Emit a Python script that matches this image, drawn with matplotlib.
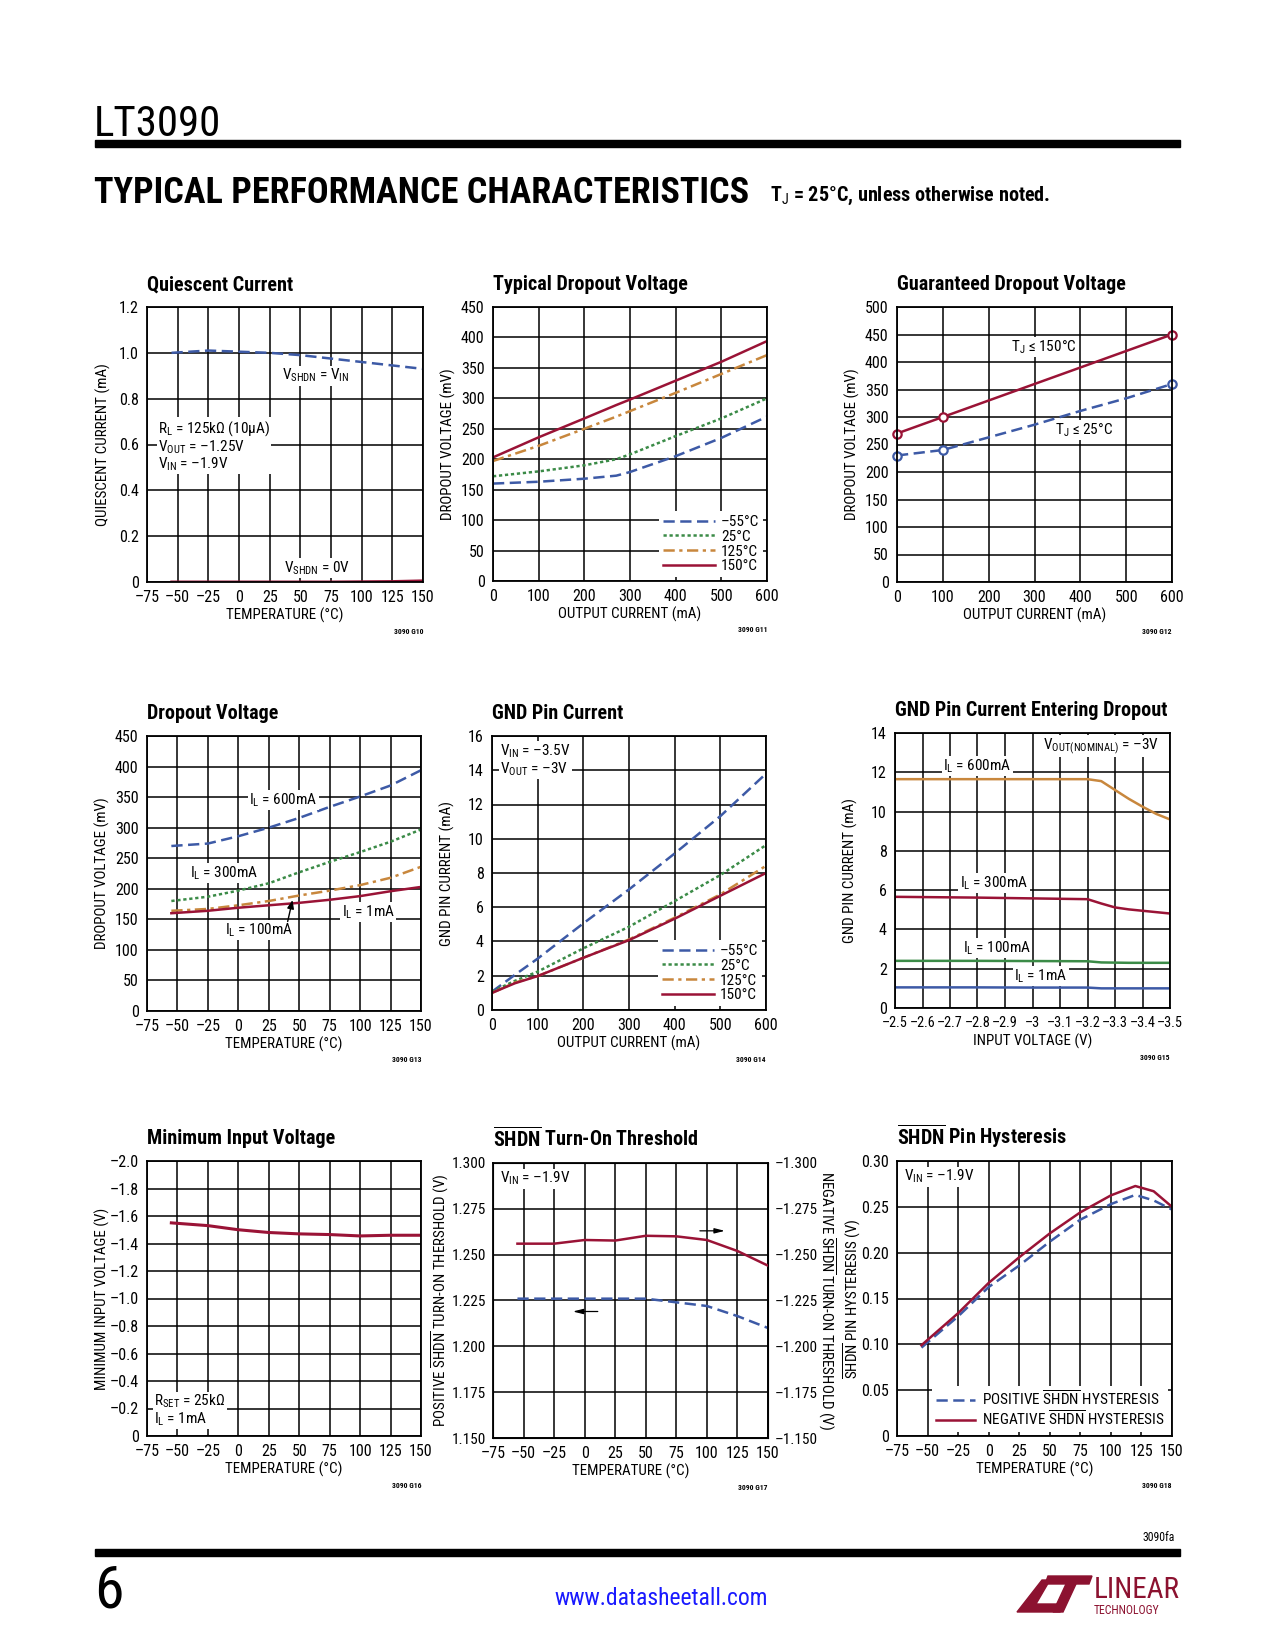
import matplotlib
matplotlib.use("Agg")
import matplotlib.pyplot as plt
from matplotlib.patches import Polygon, Rectangle

FONTS = ['Liberation Sans Narrow', 'Roboto Condensed', 'Liberation Sans', 'DejaVu Sans']
plt.rcParams['font.family'] = FONTS
plt.rcParams['mathtext.fontset'] = 'custom'
plt.rcParams['mathtext.rm'] = 'Roboto Condensed'
plt.rcParams['mathtext.it'] = 'Roboto Condensed:italic'
plt.rcParams['mathtext.bf'] = 'Roboto Condensed:bold'
plt.rcParams['mathtext.default'] = 'regular'

BLUE = '#3d5aa6'
GREEN = '#3b8b47'
ORANGE = '#c8873d'
RED = '#9a1336'

# ---------------- data ----------------
temp_ticks = [-75, -50, -25, 0, 25, 50, 75, 100, 125, 150]

# quiescent current
temp_q = [-55, -25, 0, 25, 50, 75, 100, 125, 150]
iq_on = [1.0, 1.01, 1.005, 1.0, 0.99, 0.975, 0.96, 0.945, 0.93]
iq_off = [0.001, 0.001, 0.001, 0.001, 0.001, 0.001, 0.002, 0.003, 0.006]

# typical dropout voltage
iout_typ = [0, 100, 200, 270, 300, 400, 500, 600]
vdo_m55 = [160, 163, 168, 173, 179, 205, 235, 270]
vdo_25 = [172, 180, 190, 200, 208, 238, 267, 300]
vdo_125 = [197, 222, 250, 270, 279, 309, 340, 371]
vdo_150 = [203, 236, 267, 289, 298, 329, 360, 394]

# guaranteed dropout voltage
iout_g = [0, 100, 200, 300, 400, 500, 600]
vg_150 = [270, 300, 330, 360, 390, 420, 450]
vg_25 = [230, 240, 263, 286, 311, 334, 360]
guar_marks = [0, 1, 6]

# dropout voltage vs temperature
temp_d = [-55, -25, 0, 25, 50, 75, 100, 125, 150]
vd_600 = [270, 274, 286, 300, 316, 334, 351, 369, 394]
vd_300 = [180, 187, 197, 209, 227, 244, 260, 277, 297]
vd_100 = [164, 167, 173, 180, 189, 197, 206, 218, 236]
vd_1 = [160, 164, 169, 173, 177, 182, 188, 196, 203]

# GND pin current
iout_gnd = [0, 50, 100, 200, 300, 400, 500, 600]
ig_m55 = [1.07, 2.05, 3.0, 5.06, 7.04, 9.14, 11.32, 13.8]
ig_25 = [1.07, 1.7, 2.24, 3.6, 4.86, 6.36, 7.88, 9.63]
ig_125 = [1.0, 1.6, 1.98, 3.05, 4.12, 5.39, 6.75, 8.42]
ig_150 = [1.0, 1.56, 1.98, 3.05, 4.08, 5.33, 6.67, 8.0]

# GND pin current entering dropout
vin_ticks = [-2.5, -2.6, -2.7, -2.8, -2.9, -3.0, -3.1, -3.2, -3.3, -3.4, -3.5]
vin_d = [-2.5, -2.8, -3.0, -3.2, -3.25, -3.3, -3.35, -3.4, -3.45, -3.5]
ie_600 = [11.65, 11.65, 11.65, 11.65, 11.55, 11.1, 10.65, 10.25, 9.88, 9.6]
ie_300 = [5.66, 5.62, 5.58, 5.54, 5.32, 5.12, 5.02, 4.95, 4.88, 4.81]
ie_100 = [2.40, 2.40, 2.39, 2.38, 2.32, 2.31, 2.30, 2.30, 2.30, 2.30]
ie_1 = [1.05, 1.05, 1.04, 1.04, 1.0, 1.0, 1.0, 1.0, 1.0, 1.0]

# minimum input voltage
temp_m = [-55, -25, 0, 25, 50, 75, 100, 125, 150]
vmin = [-1.55, -1.53, -1.50, -1.48, -1.47, -1.465, -1.455, -1.46, -1.46]

# SHDN turn-on threshold
temp_s = [-55, -25, 0, 25, 50, 75, 100, 125, 150]
thr_neg = [-1.256, -1.256, -1.258, -1.2577, -1.2603, -1.260, -1.258, -1.252, -1.244]
thr_pos = [1.226, 1.226, 1.226, 1.226, 1.226, 1.224, 1.222, 1.2165, 1.210]

# SHDN pin hysteresis
temp_h = [-55, -25, 0, 25, 50, 75, 100, 120, 135, 150]
hyst_pos = [0.0964, 0.1305, 0.1625, 0.186, 0.212, 0.236, 0.253, 0.263, 0.257, 0.247]
hyst_neg = [0.099, 0.134, 0.167, 0.195, 0.221, 0.244, 0.2625, 0.2727, 0.267, 0.25]

# ---------------- helpers ----------------
W, H = 1275, 1650
fig = plt.figure(figsize=(W / 100, H / 100), dpi=100)

DASH = dict(ls=(0, (4.5, 2.2)), lw=1.8)
DOT = dict(ls=(0, (1.3, 1.1)), lw=1.8)
DASHDOT = dict(ls=(0, (4.5, 1.8, 1.3, 1.8)), lw=1.8)
SOLID = dict(ls='-', lw=1.8)

TICK_FS = 11.5
LABEL_FS = 10.8
NOTE_FS = 11


def en(s):
    return s.replace('-', '\u2013')


def fmt_list(vals, f='{:g}'):
    return [en(f.format(v)) if v != 0 else '0' for v in vals]


def make_ax(box, title, code, xlabel, ylabel, ylab_x):
    l, t, r, b = box
    ax = fig.add_axes([l / W, 1 - b / H, (r - l) / W, (b - t) / H])
    ax.grid(True, color='black', lw=1.1)
    ax.tick_params(length=0, labelsize=TICK_FS, pad=6)
    for s in ax.spines.values():
        s.set_linewidth(1.3)
    ax.annotate(title, xy=(0, 1), xycoords='axes fraction', xytext=(0, 12),
                textcoords='offset points', va='baseline', ha='left',
                fontsize=14.5, fontweight='bold')
    ax.text(0.5, -0.12, xlabel, transform=ax.transAxes, ha='center',
            va='center', fontsize=LABEL_FS)
    ax.text((ylab_x - l) / (r - l), 0.5, ylabel, transform=ax.transAxes,
            rotation=90, ha='center', va='center', fontsize=LABEL_FS)
    ax.text(1.0, -49 / (b - t), code, transform=ax.transAxes, ha='right',
            va='center', fontsize=5.5, fontweight='bold')
    return ax


WHITE = dict(facecolor='white', edgecolor='none', pad=1.0)


def note(ax, x, y, s, **kw):
    ax.text(x, y, s, fontsize=NOTE_FS, bbox=WHITE, zorder=5, **kw)


def legend(ax, handles, labels, **kw):
    lg = ax.legend(handles, labels, loc='lower right', fontsize=NOTE_FS,
                   frameon=True, fancybox=False, framealpha=1,
                   facecolor='white', edgecolor='none', borderpad=0.25,
                   labelspacing=0.05, handletextpad=0.4,
                   borderaxespad=0.25, **kw)
    lg.set_zorder(6)
    return lg


# ---------------- 1. quiescent current ----------------
ax = make_ax((147, 307, 423, 582), 'Quiescent Current', '3090 G10',
             'TEMPERATURE (°C)', 'QUIESCENT CURRENT (mA)', 103)
ax.plot(temp_q, iq_on, color=BLUE, **DASH)
ax.plot(temp_q, iq_off, color=RED, **SOLID)
ax.set_xlim(-75, 150)
ax.set_ylim(0, 1.2)
ax.set_xticks(temp_ticks, fmt_list(temp_ticks))
yt = [0, 0.2, 0.4, 0.6, 0.8, 1.0, 1.2]
ax.set_yticks(yt, fmt_list(yt, '{:.1f}'))
note(ax, 35, 0.90, r'V$_{\rm SHDN}$ = V$_{\rm IN}$', va='center')
note(ax, 37, 0.06, r'V$_{\rm SHDN}$ = 0V', va='center')
note(ax, -66, 0.71, r'R$_{\rm L}$ = 125kΩ (10µA)' + '\n' + r'V$_{\rm OUT}$ = –1.25V'
     + '\n' + r'V$_{\rm IN}$ = –1.9V', va='top', linespacing=1.0)

# ---------------- 2. typical dropout voltage ----------------
ax = make_ax((493, 307, 767, 581), 'Typical Dropout Voltage', '3090 G11',
             'OUTPUT CURRENT (mA)', 'DROPOUT VOLTAGE (mV)', 448)
h1, = ax.plot(iout_typ, vdo_m55, color=BLUE, **DASH)
h2, = ax.plot(iout_typ, vdo_25, color=GREEN, **DOT)
h3, = ax.plot(iout_typ, vdo_125, color=ORANGE, **DASHDOT)
h4, = ax.plot(iout_typ, vdo_150, color=RED, **SOLID)
ax.set_xlim(0, 600)
ax.set_ylim(0, 450)
ax.set_xticks(range(0, 601, 100))
ax.set_yticks(range(0, 451, 50))
legend(ax, [h1, h2, h3, h4], ['–55°C', '25°C', '125°C', '150°C'],
       handlelength=3.4)

# ---------------- 3. guaranteed dropout voltage ----------------
ax = make_ax((897, 307, 1172, 582), 'Guaranteed Dropout Voltage', '3090 G12',
             'OUTPUT CURRENT (mA)', 'DROPOUT VOLTAGE (mV)', 852)
ax.plot(iout_g, vg_150, color=RED, marker='o', markevery=guar_marks, ms=6,
        mfc='white', mew=1.6, clip_on=False, **SOLID)
ax.plot(iout_g, vg_25, color=BLUE, marker='o', markevery=guar_marks, ms=6,
        mfc='white', mew=1.6, clip_on=False, **DASH)
ax.set_xlim(0, 600)
ax.set_ylim(0, 500)
ax.set_xticks(range(0, 601, 100))
ax.set_yticks(range(0, 501, 50))
note(ax, 320, 427, r'T$_{\rm J}$ ≤ 150°C', va='center', ha='center')
note(ax, 409, 276, r'T$_{\rm J}$ ≤ 25°C', va='center', ha='center')

# ---------------- 4. dropout voltage vs temperature ----------------
ax = make_ax((147, 736, 421, 1011), 'Dropout Voltage', '3090 G13',
             'TEMPERATURE (°C)', 'DROPOUT VOLTAGE (mV)', 102)
ax.plot(temp_d, vd_600, color=BLUE, **DASH)
ax.plot(temp_d, vd_300, color=GREEN, **DOT)
ax.plot(temp_d, vd_100, color=ORANGE, **DASHDOT)
ax.plot(temp_d, vd_1, color=RED, **SOLID)
ax.set_xlim(-75, 150)
ax.set_ylim(0, 450)
ax.set_xticks(temp_ticks, fmt_list(temp_ticks))
ax.set_yticks(range(0, 451, 50))
note(ax, 9, 345, r'I$_{\rm L}$ = 600mA', va='center')
note(ax, -40, 226, r'I$_{\rm L}$ = 300mA', va='center')
note(ax, 85, 162, r'I$_{\rm L}$ = 1mA', va='center')
note(ax, -11, 132, r'I$_{\rm L}$ = 100mA', va='center')
ax.annotate('', xy=(45, 186), xytext=(40, 142),
            arrowprops=dict(arrowstyle='-|>,head_length=0.5,head_width=0.2',
                            color='black', lw=1), zorder=6)

# ---------------- 5. GND pin current ----------------
ax = make_ax((492, 736, 766, 1010), 'GND Pin Current', '3090 G14',
             'OUTPUT CURRENT (mA)', 'GND PIN CURRENT (mA)', 447)
h1, = ax.plot(iout_gnd, ig_m55, color=BLUE, **DASH)
h2, = ax.plot(iout_gnd, ig_25, color=GREEN, **DOT)
h3, = ax.plot(iout_gnd, ig_125, color=ORANGE, **DASHDOT)
h4, = ax.plot(iout_gnd, ig_150, color=RED, **SOLID)
ax.set_xlim(0, 600)
ax.set_ylim(0, 16)
ax.set_xticks(range(0, 601, 100))
ax.set_yticks(range(0, 17, 2))
note(ax, 0.03, 0.975, r'V$_{\rm IN}$ = –3.5V' + '\n' + r'V$_{\rm OUT}$ = –3V',
     va='top', transform=ax.transAxes, linespacing=1.0)
legend(ax, [h1, h2, h3, h4], ['–55°C', '25°C', '125°C', '150°C'],
       handlelength=3.4)

# ---------------- 6. GND pin current entering dropout ----------------
ax = make_ax((895, 733, 1170, 1008), 'GND Pin Current Entering Dropout',
             '3090 G15', 'INPUT VOLTAGE (V)', 'GND PIN CURRENT (mA)', 850)
ax.plot(vin_d, ie_600, color=ORANGE, **SOLID)
ax.plot(vin_d, ie_300, color=RED, **SOLID)
ax.plot(vin_d, ie_100, color=GREEN, **SOLID)
ax.plot(vin_d, ie_1, color=BLUE, **SOLID)
ax.set_xlim(-2.5, -3.5)
ax.set_ylim(0, 14)
ax.set_xticks(vin_ticks, fmt_list(vin_ticks))
ax.set_yticks(range(0, 15, 2))
ax.tick_params(axis='x', labelsize=10.3)
note(ax, -3.25, 13.35, r'V$_{\rm OUT(NOMINAL)}$ = –3V', va='center', ha='center')
note(ax, -2.8, 12.3, r'I$_{\rm L}$ = 600mA', va='center', ha='center')
note(ax, -2.86, 6.36, r'I$_{\rm L}$ = 300mA', va='center', ha='center')
note(ax, -2.87, 3.05, r'I$_{\rm L}$ = 100mA', va='center', ha='center')
note(ax, -3.03, 1.63, r'I$_{\rm L}$ = 1mA', va='center', ha='center')

# ---------------- 7. minimum input voltage ----------------
ax = make_ax((147, 1161, 421, 1436), 'Minimum Input Voltage', '3090 G16',
             'TEMPERATURE (°C)', 'MINIMUM INPUT VOLTAGE (V)', 102)
ax.plot(temp_m, vmin, color=RED, ls='-', lw=2.2)
ax.set_xlim(-75, 150)
ax.set_ylim(0, -2.0)
ax.set_xticks(temp_ticks, fmt_list(temp_ticks))
yt = [0, -0.2, -0.4, -0.6, -0.8, -1.0, -1.2, -1.4, -1.6, -1.8, -2.0]
ax.set_yticks(yt, fmt_list(yt, '{:.1f}'))
note(ax, 0.026, 0.03, r'R$_{\rm SET}$ = 25kΩ' + '\n' + r'I$_{\rm L}$ = 1mA',
     va='bottom', transform=ax.transAxes, linespacing=1.0)

# ---------------- 8. SHDN turn-on threshold ----------------
ax = make_ax((493, 1163, 768, 1438), r'$\overline{\mathbf{SHDN}}$ Turn-On Threshold',
             '3090 G17', 'TEMPERATURE (°C)',
             r'POSITIVE $\overline{\rm SHDN}$ TURN-ON THERSHOLD (V)', 440)
ax.plot(temp_s, thr_pos, color=BLUE, **DASH)
ax.set_xlim(-75, 150)
ax.set_ylim(1.150, 1.300)
ax.set_xticks(temp_ticks, fmt_list(temp_ticks))
yt = [1.150, 1.175, 1.200, 1.225, 1.250, 1.275, 1.300]
ax.set_yticks(yt, ['{:.3f}'.format(v) for v in yt])
ax.tick_params(axis='y', labelsize=11, pad=5)
tw = ax.twinx()
tw.plot(temp_s, thr_neg, color=RED, **SOLID)
tw.set_ylim(-1.150, -1.300)
yt2 = [-1.300, -1.275, -1.250, -1.225, -1.200, -1.175, -1.150]
tw.set_yticks(yt2, [en('{:.3f}'.format(v)) for v in yt2])
tw.tick_params(length=0, labelsize=11, pad=5)
tw.grid(False)
tw.text(1.212, 0.5, r'NEGATIVE $\overline{\rm SHDN}$ TURN-ON THRESHOLD (V)',
        transform=tw.transAxes, rotation=-90, ha='center', va='center',
        fontsize=LABEL_FS)
note(ax, 0.025, 0.975, r'V$_{\rm IN}$ = –1.9V', va='top', transform=ax.transAxes)
arrow = dict(arrowstyle='-|>,head_length=0.6,head_width=0.15', color='black', lw=0.9)
ax.annotate('', xy=(117, 1.263), xytext=(92, 1.263), arrowprops=arrow)
ax.annotate('', xy=(-12, 1.219), xytext=(13, 1.219), arrowprops=arrow)

# ---------------- 9. SHDN pin hysteresis ----------------
ax = make_ax((897, 1161, 1172, 1436), r'$\overline{\mathbf{SHDN}}$ Pin Hysteresis',
             '3090 G18', 'TEMPERATURE (°C)',
             r'$\overline{\rm SHDN}$ PIN HYSTERESIS (V)', 852)
h1, = ax.plot(temp_h, hyst_pos, color=BLUE, **DASH)
h2, = ax.plot(temp_h, hyst_neg, color=RED, **SOLID)
ax.set_xlim(-75, 150)
ax.set_ylim(0, 0.30)
ax.set_xticks(temp_ticks, fmt_list(temp_ticks))
yt = [0, 0.05, 0.10, 0.15, 0.20, 0.25, 0.30]
ax.set_yticks(yt, fmt_list(yt, '{:.2f}'))
note(ax, 0.025, 0.975, r'V$_{\rm IN}$ = –1.9V', va='top', transform=ax.transAxes)
legend(ax, [h1, h2], [r'POSITIVE $\overline{\rm SHDN}$ HYSTERESIS',
                      r'NEGATIVE $\overline{\rm SHDN}$ HYSTERESIS'],
       handlelength=2.6)

# ---------------- page header / footer ----------------
def fx(x):
    return x / W


def fy(y):
    return 1 - y / H


fig.text(fx(94), fy(136), 'LT3090', fontsize=31, va='baseline', ha='left')
fig.patches.append(Rectangle((fx(95), fy(147)), fx(1180) - fx(95), 7 / H,
                             transform=fig.transFigure, color='black'))
fig.text(fx(94), fy(203), 'TYPICAL PERFORMANCE CHARACTERISTICS', fontsize=26,
         fontweight='bold', va='baseline', ha='left')
fig.text(fx(770), fy(201), r'T$_{\rm J}$ = 25°C, unless otherwise noted.',
         fontsize=14.5, fontweight='bold', va='baseline', ha='left')

fig.text(fx(1175), fy(1541), '3090fa', fontsize=8.5, va='baseline', ha='right')
fig.patches.append(Rectangle((fx(95), fy(1556)), fx(1180) - fx(95), 7 / H,
                             transform=fig.transFigure, color='black'))
fig.text(fx(94), fy(1607), '6', fontsize=43, va='baseline', ha='left')
fig.text(fx(661), fy(1605), 'www.datasheetall.com', fontsize=17, color='#1a1aff',
         va='baseline', ha='center')

# Linear Technology logo (rough)
LOGO = '#8c1230'
L_shape = [(1017, 1612), (1060, 1612), (1064, 1604), (1036, 1604),
           (1050, 1580), (1042, 1580)]
T_top = [(1048, 1576), (1092, 1576), (1089, 1584), (1045, 1584)]
T_stem = [(1066, 1584), (1076, 1584), (1063, 1612), (1053, 1612)]
for pts in (L_shape, T_top, T_stem):
    fig.patches.append(Polygon([(fx(x), fy(y)) for x, y in pts], closed=True,
                               transform=fig.transFigure, color=LOGO))
fig.text(fx(1094), fy(1598), 'LINEAR', fontsize=21, color=LOGO,
         va='baseline', ha='left')
fig.text(fx(1094), fy(1614), 'TECHNOLOGY', fontsize=8.5, color=LOGO,
         va='baseline', ha='left')

fig.savefig('out.png', dpi=100)
